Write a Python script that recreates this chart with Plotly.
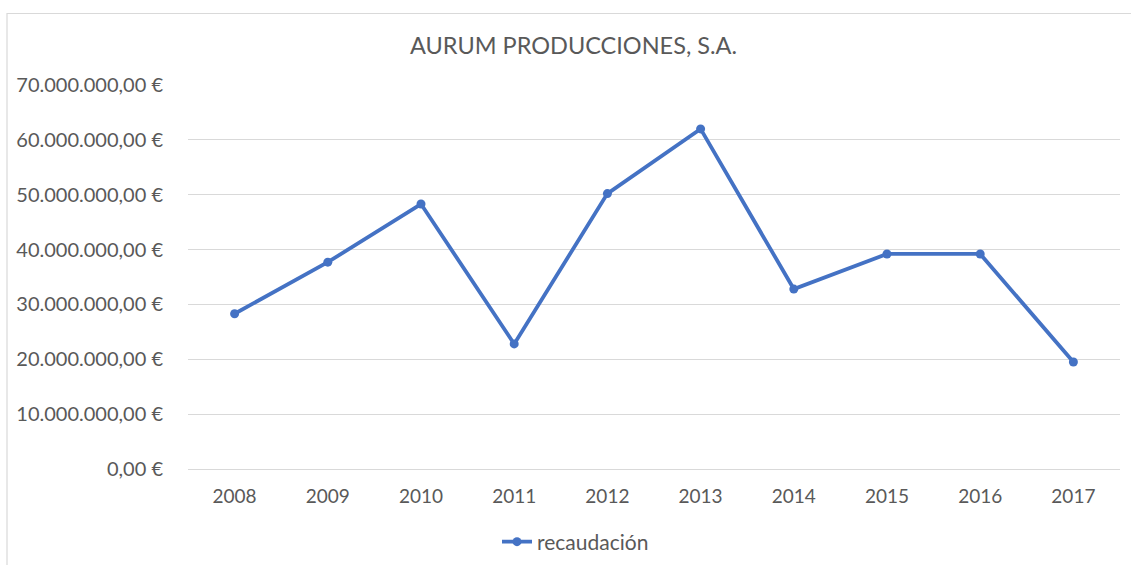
import plotly.graph_objects as go

years = ["2008", "2009", "2010", "2011", "2012", "2013", "2014", "2015", "2016", "2017"]
recaudacion = [28.3e6, 37.7e6, 48.3e6, 22.8e6, 50.2e6, 62.0e6, 32.8e6, 39.2e6, 39.2e6, 19.5e6]
series_name = "recaudación"
title_text = "AURUM PRODUCCIONES, S.A."

W, H = 1131, 565
L, R, T, B = 188, 11, 85, 96
PW, PH = W - L - R, H - T - B

def px_x(x):
    return (x - L) / PW

def px_y(y):
    return (H - B - y) / PH

FONT = "Lato"
GREY = "#595959"
BLUE = "#4472C4"
GRID = "#d9d9d9"

fig = go.Figure()
fig.add_trace(go.Scatter(
    x=years, y=recaudacion, name=series_name,
    mode="lines+markers",
    line=dict(color=BLUE, width=3.8),
    marker=dict(color=BLUE, size=9),
    showlegend=True,
))

fig.update_layout(
    width=W, height=H,
    margin=dict(l=L, r=R, t=T, b=B, autoexpand=False),
    paper_bgcolor="white", plot_bgcolor="white",
    separators=",.",
    font=dict(family=FONT, size=19, color=GREY),
    showlegend=True,
    legend=dict(orientation="h", x=px_x(497), xanchor="left",
                y=px_y(542), yanchor="middle",
                font=dict(family=FONT, size=21, color=GREY),
                itemwidth=30, bgcolor="rgba(0,0,0,0)"),
    xaxis=dict(type="category", range=[-0.5, 9.5], showgrid=False,
               showline=False, zeroline=False,
               ticks="outside", ticklen=10, tickcolor="rgba(0,0,0,0)",
               tickfont=dict(family=FONT, size=19, color=GREY)),
    yaxis=dict(range=[0, 70e6], dtick=10e6, tick0=0,
               tickformat=",.2f", ticksuffix=" €",
               showgrid=True, gridcolor=GRID, gridwidth=1.2,
               zeroline=True, zerolinecolor=GRID, zerolinewidth=1.2,
               showline=False,
               ticks="outside", ticklen=20, tickcolor="rgba(0,0,0,0)",
               tickfont=dict(family=FONT, size=20, color=GREY)),
    annotations=[dict(text=title_text, xref="paper", yref="paper",
                      x=px_x(573), y=px_y(45), xanchor="center", yanchor="middle",
                      showarrow=False,
                      font=dict(family=FONT, size=23.5, color=GREY))],
    shapes=[dict(type="rect", xref="paper", yref="paper",
                 x0=px_x(7), x1=px_x(1160), y0=px_y(600), y1=px_y(13.5),
                 line=dict(color=GRID, width=1.2), fillcolor="rgba(0,0,0,0)",
                 layer="below")],
)

fig.write_html(
    "out.html",
    config={"displayModeBar": False},
    post_script="document.body.style.margin='0';document.body.style.overflow='hidden';",
)
